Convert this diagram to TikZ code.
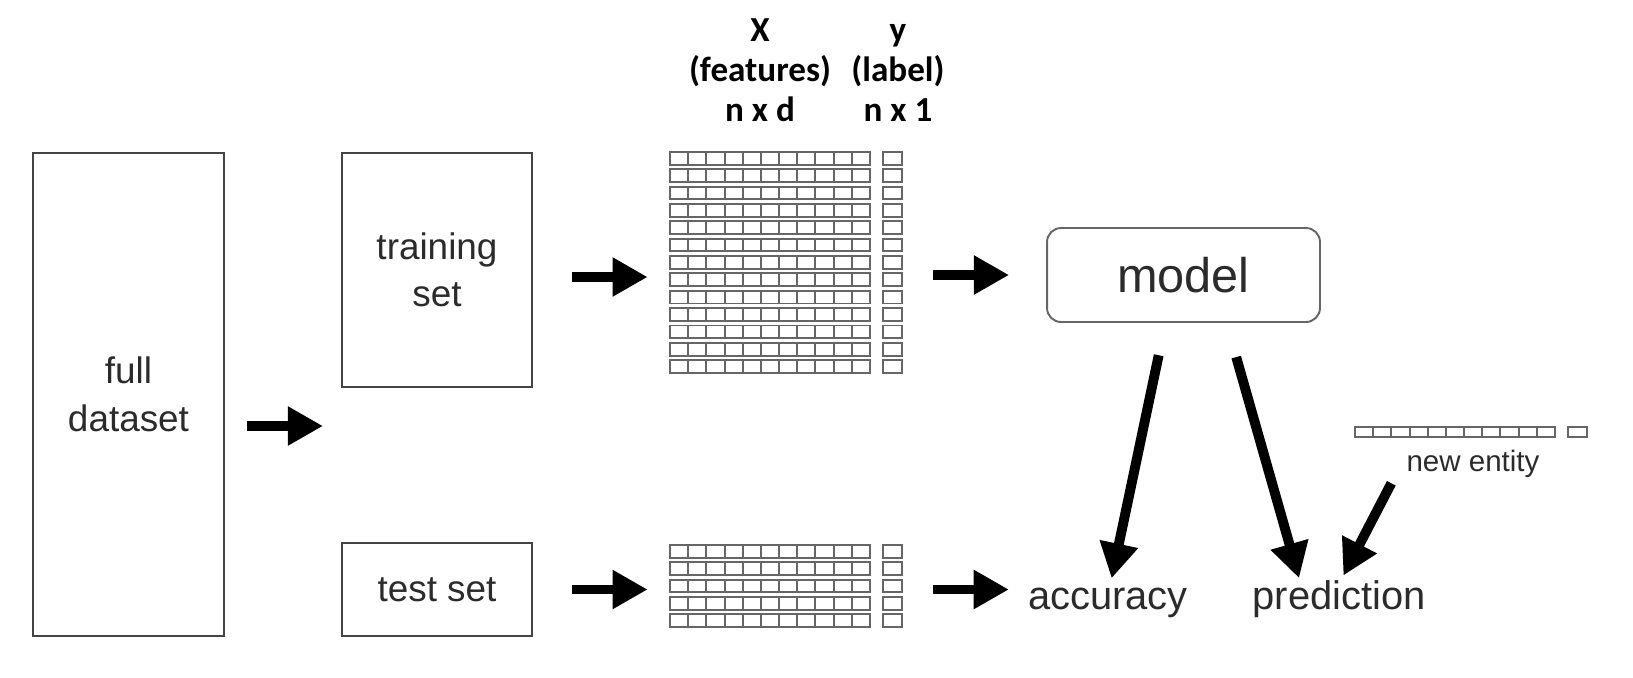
\documentclass[tikz,border=0pt]{standalone}
\usepackage{fontspec}
\setmainfont{Liberation Sans}
\newfontfamily\hdrfont{Carlito}
\usepackage{tikz}
\usetikzlibrary{positioning, arrows.meta, fit, calc}

\definecolor{boxgray}{HTML}{444444}
\definecolor{cellgray}{HTML}{666666}
\definecolor{txtgray}{HTML}{2B2B2B}

\tikzset{
  setbox/.style={draw=boxgray, line width=1.6pt, minimum width=3.8cm, align=center,
    text=txtgray, font=\fontsize{21}{27}\selectfont},
  bigarrow/.style={-{Triangle[length=20pt,width=21pt]}, line width=5.6pt},
  cell/.style={draw=cellgray, line width=1.1pt},
  outlabel/.style={text=txtgray, inner sep=0pt, text height=0.75em, text depth=0.25em,
    font=\fontsize{22.7}{27}\selectfont},
  headlabel/.style={align=center, anchor=north, font=\hdrfont\bfseries\fontsize{20}{23}\selectfont},
}

% one row of a data matrix: 11 feature cells and the label cell (x, y, height)
\newcommand{\datarow}[3]{%
  \draw[cell] (#1,#2) rectangle ++(200,#3);
  \foreach \k in {1,...,10} {\draw[cell] (#1+\k*18.18,#2) -- ++(0,#3);}
  \draw[cell] (#1+213,#2) rectangle ++(19,#3);
}

\begin{document}
\begin{tikzpicture}[x=0.02cm, y=-0.02cm]
  \useasboundingbox (0,0) rectangle (1633,677);

  % datasets
  \node[setbox, minimum width=3.82cm, minimum height=9.66cm] (full) at (128.5,394.5) {full\\dataset};
  \node[setbox, minimum height=4.68cm] (train) at (437,270) {training\\set};
  \node[setbox, minimum height=1.86cm] (test) at (437,589.5) {test set};

  % data matrices
  \foreach \r in {0,...,12} {\datarow{670}{152+\r*17.35}{12.7}}
  \foreach \r in {0,...,4} {\datarow{670}{545+\r*17.35}{12.7}}
  \node[fit={(670,152) (902,377)}, inner sep=0pt] (trdata) {};
  \node[fit={(670,545) (902,627)}, inner sep=0pt] (tedata) {};

  \node[headlabel] (xhead) at (760,12) {X\vphantom{y}\\(features)\\n x d};
  \node[headlabel] (yhead) at (898,12) {y\vphantom{X}\\(label)\\n x 1};

  % model and results
  \node[draw=cellgray, line width=1.1pt, rounded corners=8pt, minimum width=5.46cm,
    minimum height=1.88cm, text=txtgray, font=\fontsize{27.7}{32}\selectfont] (model) at (1183.5,275) {model};
  \node[outlabel, anchor=base] (acc) at (1108,609) {accuracy};
  \node[outlabel, anchor=base] (pred) at (1339,609) {prediction};

  % new entity
  \datarow{1355}{427}{10}
  \node[text=txtgray, inner sep=0pt, text height=0.75em, text depth=0.25em, anchor=base,
    font=\fontsize{16.8}{20}\selectfont] (newent) at (1473,471) {new entity};

  % arrows
  \coordinate (split) at (323,426);
  \draw[bigarrow, shorten <=0.44cm] (full.east |- split) -- (split);
  \draw[bigarrow, shorten <=0.78cm, shorten >=0.44cm] ([yshift=-0.14cm]train.east) -- ([yshift=-0.14cm]train.east -| trdata.west);
  \draw[bigarrow, shorten <=0.78cm, shorten >=0.44cm] (test.east) -- (test.east -| tedata.west);
  \draw[bigarrow, shorten <=0.62cm, shorten >=0.74cm] (trdata.east |- model.west) -- (model.west);
  \draw[bigarrow, shorten <=0.62cm, shorten >=0.38cm] (tedata.east |- test.east) -- (acc.west |- test.east);
  \draw[bigarrow, shorten <=0.66cm, shorten >=0.35cm] ($(model.south)+(-18,0)$) -- (acc.north);
  \draw[bigarrow, shorten <=0.71cm, shorten >=0.36cm] ($(model.south)+(43,0)$) -- ($(pred.north)+(-35,0)$);
  \draw[bigarrow, shorten <=0.17cm, shorten >=0.45cm] ($(newent.south west)+(-11,0)$) -- ($(pred.north)+(-6,0)$);
\end{tikzpicture}
\end{document}
